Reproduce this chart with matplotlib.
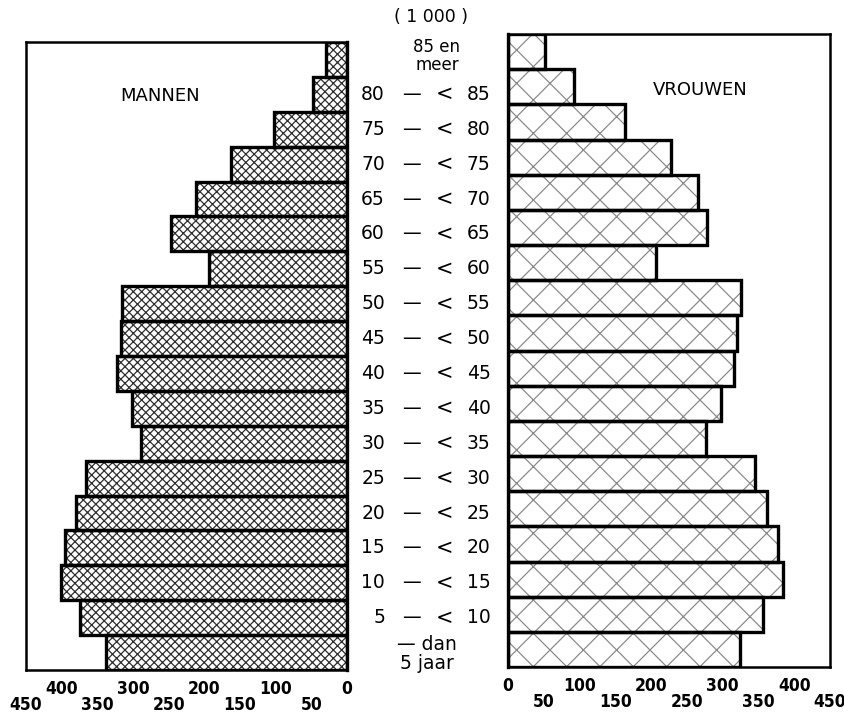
import matplotlib
matplotlib.use("Agg")
import matplotlib.pyplot as plt
from matplotlib.transforms import blended_transform_factory

# ---- data (thousands) ----
age_left = ["", "5", "10", "15", "20", "25", "30", "35", "40", "45",
            "50", "55", "60", "65", "70", "75", "80", ""]
age_right = ["", "10", "15", "20", "25", "30", "35", "40", "45", "50",
             "55", "60", "65", "70", "75", "80", "85", ""]
men = [338, 374, 401, 395, 380, 366, 289, 302, 323, 317,
       315, 194, 247, 212, 163, 103, 47, 29]
women = [324, 357, 384, 378, 362, 345, 277, 298, 316, 320,
         325, 207, 278, 265, 228, 163, 92, 52]
major_ticks = [0, 100, 200, 300, 400]
minor_ticks = [50, 150, 250, 350, 450]

W, H = 845, 721
plt.rcParams['hatch.linewidth'] = 0.9
fig = plt.figure(figsize=(W / 100, H / 100), dpi=100)

def rect(x0, y0, x1, y1):
    return [x0 / W, 1 - y1 / H, (x1 - x0) / W, (y1 - y0) / H]

axL = fig.add_axes(rect(26, 42, 347, 670))
axR = fig.add_axes(rect(508, 34, 830, 667))

n = len(men)
ypos = [i + 0.5 for i in range(n)]

tick_font = dict(family='DejaVu Sans', size=12.5, weight='bold', stretch='condensed')

for ax, vals, hatch, hcol in ((axL, men, 'xxxx', '#2e2e2e'), (axR, women, 'x', '#8a8a8a')):
    ax.barh(ypos, vals, height=1.0, color='white', edgecolor=hcol,
            hatch=hatch, linewidth=0)
    ax.barh(ypos, vals, height=1.0, color='none', edgecolor='black',
            linewidth=2.4)
    ax.set_ylim(0, n)
    ax.set_yticks([])
    ax.set_xticks(major_ticks)
    ax.set_xticks(minor_ticks, minor=True)
    ax.set_xticklabels([str(v) for v in major_ticks], fontdict=tick_font)
    ax.set_xticklabels([str(v) for v in minor_ticks], minor=True, fontdict=tick_font)
    ax.tick_params(axis='x', which='major', length=0, pad=7)
    ax.tick_params(axis='x', which='minor', length=0, pad=19)
    for s in ax.spines.values():
        s.set_linewidth(1.8)

axL.set_xlim(450, 0)
axR.set_xlim(0, 450)
axL.spines['right'].set_linewidth(2.4)
axR.spines['left'].set_linewidth(2.4)

fig.text(160 / W, 1 - 96 / H, "MANNEN", ha='center', va='center', fontsize=13,
         family='DejaVu Sans')
fig.text(700 / W, 1 - 90 / H, "VROUWEN", ha='center', va='center', fontsize=13,
         family='DejaVu Sans')

# centre labels
tr = blended_transform_factory(fig.transFigure, axL.transData)
lab = dict(fontsize=13.5, family='DejaVu Sans', va='center')
for i in range(n):
    y = ypos[i]
    if age_left[i] and age_right[i]:
        fig.text(385 / W, y, age_left[i], ha='right', transform=tr, **lab)
        fig.text(411 / W, y, "—", ha='center', transform=tr, **lab)
        fig.text(445 / W, y, "<", ha='center', transform=tr, fontsize=15,
                 family='DejaVu Sans', va='center')
        fig.text(467 / W, y, age_right[i], ha='left', transform=tr, **lab)

fig.text(427 / W, 1 - 654 / H, "— dan\n5 jaar", ha='center', va='center',
         fontsize=13.5, family='DejaVu Sans', linespacing=1.0)
fig.text(437 / W, 1 - 56 / H, "85 en\nmeer", ha='center', va='center',
         fontsize=12, family='DejaVu Sans', linespacing=0.95)
fig.text(431 / W, 1 - 17 / H, "( 1 000 )", ha='center', va='center', fontsize=12.5,
         family='DejaVu Sans')

fig.savefig("out.png", dpi=100)
